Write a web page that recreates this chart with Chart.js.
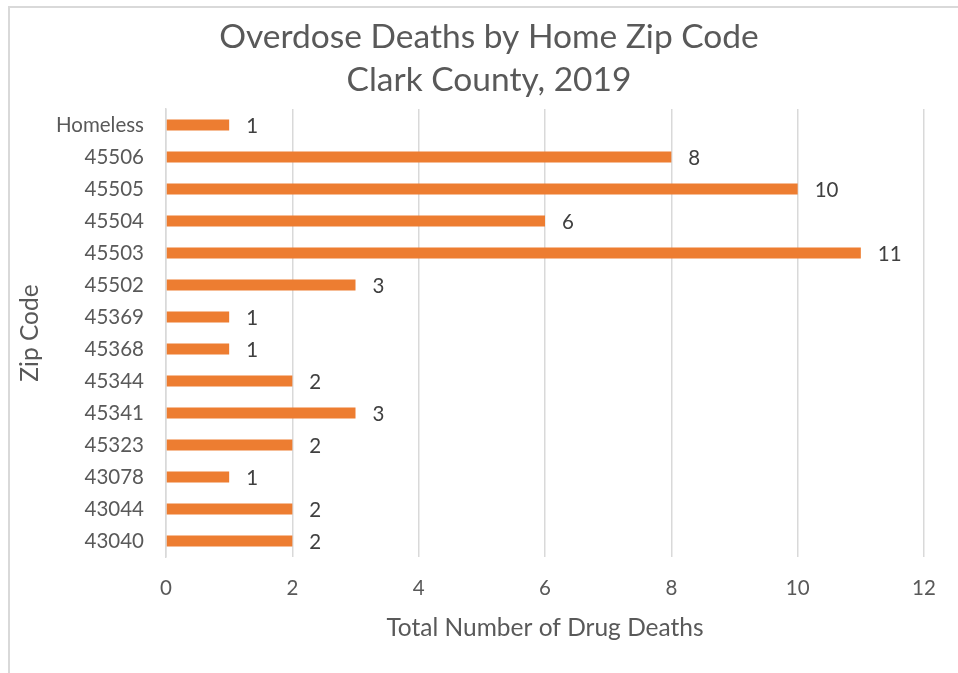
<!DOCTYPE html>
<html>
<head>
<meta charset="utf-8">
<script src="https://cdn.jsdelivr.net/npm/chart.js@4/dist/chart.umd.min.js"></script>
<style>
  html, body { margin: 0; padding: 0; background: #fff; overflow: hidden; }
  #wrap { position: relative; width: 958px; height: 673px; }
  #frame { position: absolute; left: 8px; top: 6px; width: 1000px; height: 720px; border: 2px solid #d9d9d9; box-sizing: border-box; }
  #deathsChart { position: absolute; left: 0; top: 0; }
</style>
</head>
<body>
<div id="wrap">
  <div id="frame"></div>
  <canvas id="deathsChart" width="958" height="673"></canvas>
</div>
<script>
// zip codes top to bottom as shown
var zipCodes = ["Homeless", "45506", "45505", "45504", "45503", "45502", "45369", "45368", "45344", "45341", "45323", "43078", "43044", "43040"];
var deathCounts = [1, 8, 10, 6, 11, 3, 1, 1, 2, 3, 2, 1, 2, 2];
var xTicks = [0, 2, 4, 6, 8, 10, 12];

var fontName = "Lato, 'Open Sans', sans-serif";
var textGray = "#595959";

// move title box so it centers on the whole frame
var titleCenter = {
    id: "titleCenter",
    afterLayout: function(chart) {
        if (chart.titleBlock) {
            chart.titleBlock.left = 9;
            chart.titleBlock.right = 969;
        }
    }
};

// value labels right of each bar
var barLabels = {
    id: "barLabels",
    afterDatasetsDraw: function(chart) {
        var ctx = chart.ctx;
        var meta = chart.getDatasetMeta(0);
        ctx.save();
        ctx.font = "20.5px " + fontName;
        ctx.fillStyle = "#404040";
        ctx.textAlign = "left";
        ctx.textBaseline = "middle";
        meta.data.forEach(function(bar, i) {
            ctx.fillText(String(deathCounts[i]), bar.x + 17, bar.y + 1);
        });
        ctx.restore();
    }
};

var ctxDeaths = document.getElementById("deathsChart");

new Chart(ctxDeaths, {
    type: "bar",
    data: {
        labels: zipCodes,
        datasets: [
            {
                label: "Total Number of Drug Deaths",
                data: deathCounts,
                backgroundColor: "#ED7D31",
                borderWidth: 0,
                categoryPercentage: 1,
                barPercentage: 0.35
            }
        ]
    },
    options: {
        indexAxis: "y",
        responsive: false,
        animation: false,
        devicePixelRatio: 1,
        layout: {
            padding: { left: 6, right: 34, top: 0, bottom: 20 }
        },
        plugins: {
            legend: { display: false },
            tooltip: { enabled: false },
            title: {
                display: true,
                text: ["Overdose Deaths by Home Zip Code", "Clark County, 2019"],
                color: textGray,
                font: { family: fontName, size: 33.5, weight: "normal", lineHeight: "43px" },
                padding: { top: 15.5, bottom: 7.5 }
            }
        },
        scales: {
            x: {
                min: 0,
                max: 12,
                afterBuildTicks: function(scale) {
                    scale.ticks = xTicks.map(function(v) { return { value: v }; });
                },
                afterFit: function(scale) {
                    scale.height = 96;
                },
                grid: {
                    color: "#d9d9d9",
                    lineWidth: 1.5,
                    drawTicks: false
                },
                border: { display: false },
                ticks: {
                    color: textGray,
                    padding: 19,
                    font: { family: fontName, size: 20.5 }
                },
                title: {
                    display: true,
                    text: "Total Number of Drug Deaths",
                    color: textGray,
                    font: { family: fontName, size: 24.5 },
                    padding: { top: 4, bottom: 10 }
                }
            },
            y: {
                afterFit: function(scale) {
                    scale.width = 160;
                },
                grid: { display: false, drawTicks: false },
                border: { display: true, color: "#d9d9d9", width: 1.5 },
                ticks: {
                    color: textGray,
                    padding: 22,
                    font: { family: fontName, size: 20.5 }
                },
                title: {
                    display: true,
                    text: "Zip Code",
                    color: textGray,
                    font: { family: fontName, size: 24.5 },
                    padding: { top: 9, bottom: 4 }
                }
            }
        }
    },
    plugins: [titleCenter, barLabels]
});
</script>
</body>
</html>
